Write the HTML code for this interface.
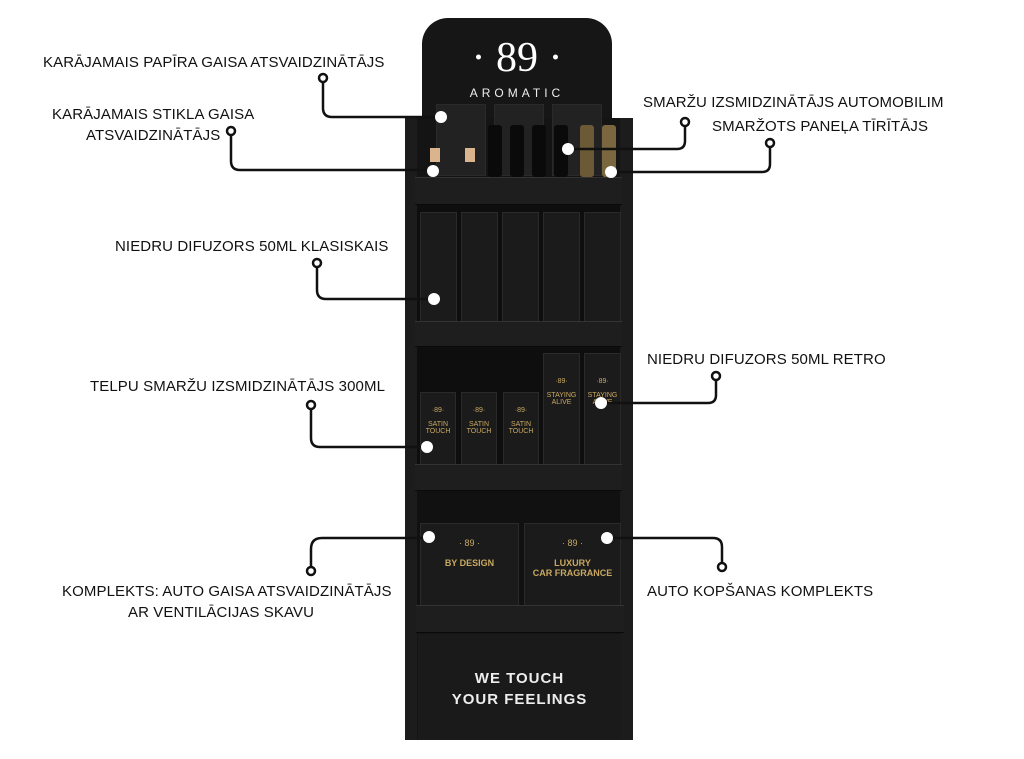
<!DOCTYPE html>
<html><head><meta charset="utf-8"><style>
*{margin:0;padding:0;box-sizing:border-box}
body{width:1024px;height:759px;background:#fff;position:relative;overflow:hidden;font-family:"Liberation Sans",sans-serif}
.a{position:absolute}
.t{position:absolute;font-size:15px;color:#111;white-space:nowrap;letter-spacing:0.1px}
.box{position:absolute;background:#1b1b1b;border:1px solid #2a2a2a;color:#c9a961;text-align:center;font-size:7px}
.lip{position:absolute;background:#1e1e1e;border-top:1px solid #333;border-bottom:1px solid #0a0a0a}
</style></head><body>
<div class="a" style="left:422px;top:18px;width:190px;height:110px;background:#161616;border-radius:26px 26px 0 0"></div>
<div class="a" style="left:405px;top:118px;width:228px;height:622px;background:#141414"></div>
<div class="a" style="left:405px;top:118px;width:12px;height:622px;background:#1c1c1c"></div>
<div class="a" style="left:620px;top:118px;width:13px;height:622px;background:#1c1c1c"></div>
<div class="a" style="left:417px;top:205px;width:203px;height:120px;background:#0e0e0e"></div>
<div class="a" style="left:417px;top:345px;width:203px;height:125px;background:#0e0e0e"></div>
<div class="a" style="left:417px;top:490px;width:203px;height:120px;background:#111"></div>
<div class="a" style="left:422px;top:34px;width:190px;text-align:center;color:#fff;font-family:'Liberation Serif',serif;font-size:42px">· 89 ·</div>
<div class="a" style="left:422px;top:86px;width:190px;text-align:center;color:#eee;font-size:12px;letter-spacing:4px">AROMATIC</div>
<div class="box" style="left:436px;top:104px;width:50px;height:72px;background:#222"></div>
<div class="box" style="left:494px;top:104px;width:50px;height:72px;background:#222"></div>
<div class="box" style="left:552px;top:104px;width:50px;height:72px;background:#222"></div>
<div class="a" style="left:430px;top:148px;width:10px;height:14px;background:#d9b48c"></div>
<div class="a" style="left:465px;top:148px;width:10px;height:14px;background:#d9b48c"></div>
<div class="a" style="left:488px;top:125px;width:14px;height:52px;background:#0a0a0a;border-radius:3px"></div>
<div class="a" style="left:510px;top:125px;width:14px;height:52px;background:#0a0a0a;border-radius:3px"></div>
<div class="a" style="left:532px;top:125px;width:14px;height:52px;background:#0a0a0a;border-radius:3px"></div>
<div class="a" style="left:554px;top:125px;width:14px;height:52px;background:#0a0a0a;border-radius:3px"></div>
<div class="a" style="left:580px;top:125px;width:14px;height:52px;background:#6b5a35;border-radius:3px"></div>
<div class="a" style="left:602px;top:125px;width:14px;height:52px;background:#7a6740;border-radius:3px"></div>
<div class="lip" style="left:415px;top:177px;width:207px;height:28px"></div>
<div class="box" style="left:420px;top:212px;width:37px;height:110px"></div>
<div class="box" style="left:461px;top:212px;width:37px;height:110px"></div>
<div class="box" style="left:502px;top:212px;width:37px;height:110px"></div>
<div class="box" style="left:543px;top:212px;width:37px;height:110px"></div>
<div class="box" style="left:584px;top:212px;width:37px;height:110px"></div>
<div class="lip" style="left:415px;top:321px;width:207px;height:26px"></div>
<div class="box" style="left:420px;top:392px;width:36px;height:74px;padding-top:14px">·89·<br><br>SATIN<br>TOUCH</div>
<div class="box" style="left:461px;top:392px;width:36px;height:74px;padding-top:14px">·89·<br><br>SATIN<br>TOUCH</div>
<div class="box" style="left:503px;top:392px;width:36px;height:74px;padding-top:14px">·89·<br><br>SATIN<br>TOUCH</div>
<div class="box" style="left:543px;top:353px;width:37px;height:113px;padding-top:24px">·89·<br><br>STAYING<br>ALIVE</div>
<div class="box" style="left:584px;top:353px;width:37px;height:113px;padding-top:24px">·89·<br><br>STAYING<br>ALIVE</div>
<div class="lip" style="left:415px;top:464px;width:207px;height:27px"></div>
<div class="box" style="left:420px;top:523px;width:99px;height:84px;font-size:9px;padding-top:14px">· 89 ·<br><br><b>BY DESIGN</b></div>
<div class="box" style="left:524px;top:523px;width:97px;height:84px;font-size:9px;padding-top:14px">· 89 ·<br><br><b>LUXURY<br>CAR FRAGRANCE</b></div>
<div class="lip" style="left:416px;top:605px;width:208px;height:28px"></div>
<div class="a" style="left:418px;top:634px;width:203px;height:106px;background:#1a1a1a"></div>
<div class="a" style="left:418px;top:668px;width:203px;text-align:center;color:#eee;font-size:15px;font-weight:bold;line-height:21px;letter-spacing:1px">WE TOUCH<br>YOUR FEELINGS</div>
<svg class="a" style="left:0;top:0" width="1024" height="759">
<g fill="none" stroke="#111" stroke-width="2.5" stroke-linejoin="round">
<path d="M323 83 V108 Q323 117 332 117 H441"/>
<path d="M231 136 V161 Q231 170 240 170 H433"/>
<path d="M685 127 V141 Q685 149 677 149 H568"/>
<path d="M770 148 V164 Q770 172 762 172 H611"/>
<path d="M317 268 V290 Q317 299 326 299 H434"/>
<path d="M716 381 V395 Q716 403 708 403 H601"/>
<path d="M311 410 V438 Q311 447 320 447 H427"/>
<path d="M311 566 V549 Q311 538 322 538 H429"/>
<path d="M722 562 V547 Q722 538 713 538 H607"/>
</g>
<g fill="#fff" stroke="#111" stroke-width="2.5">
<circle cx="323" cy="78" r="4"/><circle cx="231" cy="131" r="4"/><circle cx="685" cy="122" r="4"/>
<circle cx="770" cy="143" r="4"/><circle cx="317" cy="263" r="4"/><circle cx="716" cy="376" r="4"/>
<circle cx="311" cy="405" r="4"/><circle cx="311" cy="571" r="4"/><circle cx="722" cy="567" r="4"/>
</g>
<g fill="#fff">
<circle cx="441" cy="117" r="6"/><circle cx="433" cy="171" r="6"/><circle cx="568" cy="149" r="6"/>
<circle cx="611" cy="172" r="6"/><circle cx="434" cy="299" r="6"/><circle cx="601" cy="403" r="6"/>
<circle cx="427" cy="447" r="6"/><circle cx="429" cy="537" r="6"/><circle cx="607" cy="538" r="6"/>
</g>
</svg>
<div class="t" style="left:43px;top:54px">KARĀJAMAIS PAPĪRA GAISA ATSVAIDZINĀTĀJS</div>
<div class="t" style="left:52px;top:106px">KARĀJAMAIS STIKLA GAISA</div>
<div class="t" style="left:86px;top:127px">ATSVAIDZINĀTĀJS</div>
<div class="t" style="left:643px;top:94px">SMARŽU IZSMIDZINĀTĀJS AUTOMOBILIM</div>
<div class="t" style="left:712px;top:118px">SMARŽOTS PANEĻA TĪRĪTĀJS</div>
<div class="t" style="left:115px;top:238px">NIEDRU DIFUZORS 50ML KLASISKAIS</div>
<div class="t" style="left:647px;top:351px">NIEDRU DIFUZORS 50ML RETRO</div>
<div class="t" style="left:90px;top:378px">TELPU SMARŽU IZSMIDZINĀTĀJS 300ML</div>
<div class="t" style="left:62px;top:583px">KOMPLEKTS: AUTO GAISA ATSVAIDZINĀTĀJS</div>
<div class="t" style="left:128px;top:604px">AR VENTILĀCIJAS SKAVU</div>
<div class="t" style="left:647px;top:583px">AUTO KOPŠANAS KOMPLEKTS</div>
</body></html>
